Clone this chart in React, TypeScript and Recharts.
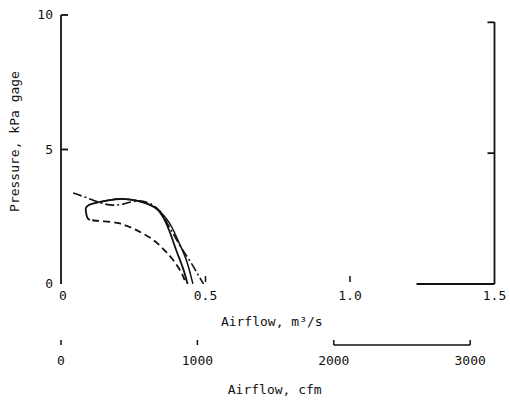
import React from 'react';
import { LineChart, Line, XAxis, YAxis, ReferenceLine } from 'recharts';

// fan curves: [airflow m3/s, pressure kPa]
const solidA: [number, number][] = [
  [0.100, 2.38], [0.091, 2.47], [0.087, 2.64], [0.086, 2.82], [0.095, 2.93], [0.110, 2.99],
  [0.135, 3.05], [0.170, 3.12], [0.204, 3.16], [0.239, 3.14], [0.273, 3.07], [0.308, 2.94],
  [0.336, 2.75], [0.353, 2.49], [0.367, 2.19], [0.384, 1.71], [0.401, 1.19], [0.422, 0.59], [0.438, 0],
];
const solidB: [number, number][] = [
  [0.135, 3.05], [0.170, 3.12], [0.204, 3.16], [0.239, 3.14], [0.273, 3.07], [0.308, 2.94],
  [0.336, 2.76], [0.360, 2.49], [0.384, 2.10], [0.412, 1.45], [0.436, 0.82], [0.453, 0.15], [0.457, 0],
];
const dashDot: [number, number][] = [
  [0.042, 3.38], [0.083, 3.23], [0.128, 3.05], [0.170, 2.94], [0.215, 2.97], [0.263, 3.09],
  [0.308, 2.99], [0.343, 2.70], [0.360, 2.40], [0.380, 2.02], [0.405, 1.55], [0.430, 1.12],
  [0.455, 0.70], [0.475, 0.33], [0.493, 0],
];
const dashed: [number, number][] = [
  [0.108, 2.37], [0.135, 2.34], [0.170, 2.31], [0.200, 2.26], [0.228, 2.16], [0.256, 2.03],
  [0.285, 1.87], [0.315, 1.67], [0.340, 1.45], [0.363, 1.20], [0.384, 0.95], [0.405, 0.63],
  [0.420, 0.35], [0.433, 0],
];

const m3sTicks = [0, 0.5, 1.0, 1.5];
const cfmTicks = [0, 1000, 2000, 3000];
const pressureTicks = [0, 5, 10];
const rightTicks = [5, 10];

const CFM_PER_M3S = 2118.88;
const X_MAX = 1.5;
const CFM_MAX = X_MAX * CFM_PER_M3S;
const BOTTOM_LINE_FROM = 1.23; // only this bit of the lower frame survives in the scan
const CFM_LINE = [2000, 3000];

const M3S_DOMAIN = [0, X_MAX];
const CFM_DOMAIN = [0, CFM_MAX];
const P_DOMAIN = [0, 10];
const RIGHT_DOMAIN = [0, 10.28]; // right frame is drawn a little lower in the scan

const W = 510;
const H = 409;
const PLOT_LEFT = 61;
const PLOT_RIGHT = 494.5;
const PLOT_W = PLOT_RIGHT - PLOT_LEFT;

const FONT = '"DejaVu Sans Mono", monospace';
const INK = '#111';

const toPts = (arr: [number, number][]) => arr.map(([x, y]) => ({ x, y }));

const LeftTick = ({ x, y, payload }: any) => (
  <g>
    {payload.value !== 0 && <line x1={x} x2={x + 7} y1={y} y2={y} stroke={INK} strokeWidth={1.8} />}
    <text x={x - 8} y={y} dy={4} textAnchor="end" fontFamily={FONT} fontSize={13} fill={INK}>
      {payload.value}
    </text>
  </g>
);

const RightTick = ({ x, y }: any) => (
  <line x1={x} x2={x - 7} y1={y} y2={y} stroke={INK} strokeWidth={1.8} />
);

const M3sTick = ({ x, y, payload }: any) => {
  const v = payload.value;
  return (
    <g>
      {(v === 0.5 || v === 1) && <line x1={x} x2={x} y1={y - 8} y2={y - 2} stroke={INK} strokeWidth={1.5} />}
      <text x={x + (v === 0 ? 2 : 0)} y={y + 16} textAnchor="middle" fontFamily={FONT} fontSize={13} fill={INK}>
        {v === 0 ? '0' : v.toFixed(1)}
      </text>
    </g>
  );
};

const CfmTick = ({ x, y, payload }: any) => (
  <g>
    <line x1={x} x2={x} y1={y - 5} y2={y} stroke={INK} strokeWidth={1.5} />
    <text x={x} y={y + 20} textAnchor="middle" fontFamily={FONT} fontSize={13} fill={INK}>
      {payload.value}
    </text>
  </g>
);

const YLabel = ({ viewBox }: any) => {
  const cx = viewBox.x + 15;
  const cy = viewBox.y + viewBox.height / 2 - 8;
  return (
    <text x={cx} y={cy} dy={4} transform={`rotate(-90 ${cx} ${cy})`} textAnchor="middle"
      fontFamily={FONT} fontSize={13} fill={INK}>
      Pressure, kPa gage
    </text>
  );
};

// px offsets along the cfm axis line, so only 2000-3000 is drawn
const cfmFrom = (CFM_LINE[0] / CFM_MAX) * PLOT_W;
const cfmLen = ((CFM_LINE[1] - CFM_LINE[0]) / CFM_MAX) * PLOT_W;

const m3sLabel = { value: 'Airflow, m³/s', position: 'insideBottom', offset: 19, dx: -6, fontFamily: FONT, fontSize: 13, fill: INK };
const cfmLabel = { value: 'Airflow, cfm', position: 'insideBottom', offset: 11, dx: -3, fontFamily: FONT, fontSize: 13, fill: INK };
const cfmAxisLine = { stroke: INK, strokeWidth: 1.5, strokeDasharray: `0 ${cfmFrom} ${cfmLen} 1000` };
const leftAxisLine = { stroke: INK, strokeWidth: 1.8 };
const rightAxisLine = { stroke: INK, strokeWidth: 1.8, strokeDasharray: '0 7 1000' };

export default function App() {
  return (
    <div style={{ position: 'absolute', left: 0, top: 0, width: W, height: H, background: '#fff' }}>
      <LineChart width={W} height={H} margin={{ top: 15, right: 0.5, left: 0, bottom: 4 }}>
        <XAxis
          xAxisId="a_m3s"
          type="number"
          dataKey="x"
          domain={M3S_DOMAIN}
          allowDataOverflow
          ticks={m3sTicks}
          axisLine={false}
          tickLine={false}
          tickSize={0}
          tickMargin={0}
          tick={<M3sTick />}
          height={61}
          label={m3sLabel}
        />
        <XAxis
          xAxisId="b_cfm"
          type="number"
          dataKey="x"
          domain={CFM_DOMAIN}
          allowDataOverflow
          ticks={cfmTicks}
          interval={0}
          axisLine={cfmAxisLine}
          tickLine={false}
          tickSize={0}
          tickMargin={0}
          tick={<CfmTick />}
          height={60}
          label={cfmLabel}
        />
        <YAxis
          yAxisId="left"
          type="number"
          domain={P_DOMAIN}
          allowDataOverflow
          ticks={pressureTicks}
          width={61}
          axisLine={leftAxisLine}
          tickLine={false}
          tickSize={0}
          tickMargin={0}
          tick={<LeftTick />}
          label={<YLabel />}
        />
        <YAxis
          yAxisId="right"
          orientation="right"
          type="number"
          domain={RIGHT_DOMAIN}
          allowDataOverflow
          ticks={rightTicks}
          width={15}
          axisLine={rightAxisLine}
          tickLine={false}
          tickSize={0}
          tickMargin={0}
          tick={<RightTick />}
        />
        <ReferenceLine
          xAxisId="a_m3s"
          yAxisId="left"
          segment={[{ x: BOTTOM_LINE_FROM, y: 0 }, { x: X_MAX, y: 0 }]}
          stroke={INK}
          strokeWidth={1.8}
        />
        <Line xAxisId="a_m3s" yAxisId="left" data={toPts(dashed)} dataKey="y" type="natural"
          stroke={INK} strokeWidth={1.8} strokeDasharray="7 4" dot={false} isAnimationActive={false} />
        <Line xAxisId="a_m3s" yAxisId="left" data={toPts(dashDot)} dataKey="y" type="natural"
          stroke={INK} strokeWidth={1.6} strokeDasharray="9 3 2 3" dot={false} isAnimationActive={false} />
        <Line xAxisId="a_m3s" yAxisId="left" data={toPts(solidB)} dataKey="y" type="natural"
          stroke={INK} strokeWidth={1.5} dot={false} isAnimationActive={false} />
        <Line xAxisId="a_m3s" yAxisId="left" data={toPts(solidA)} dataKey="y" type="natural"
          stroke={INK} strokeWidth={1.8} dot={false} isAnimationActive={false} />
      </LineChart>
    </div>
  );
}
